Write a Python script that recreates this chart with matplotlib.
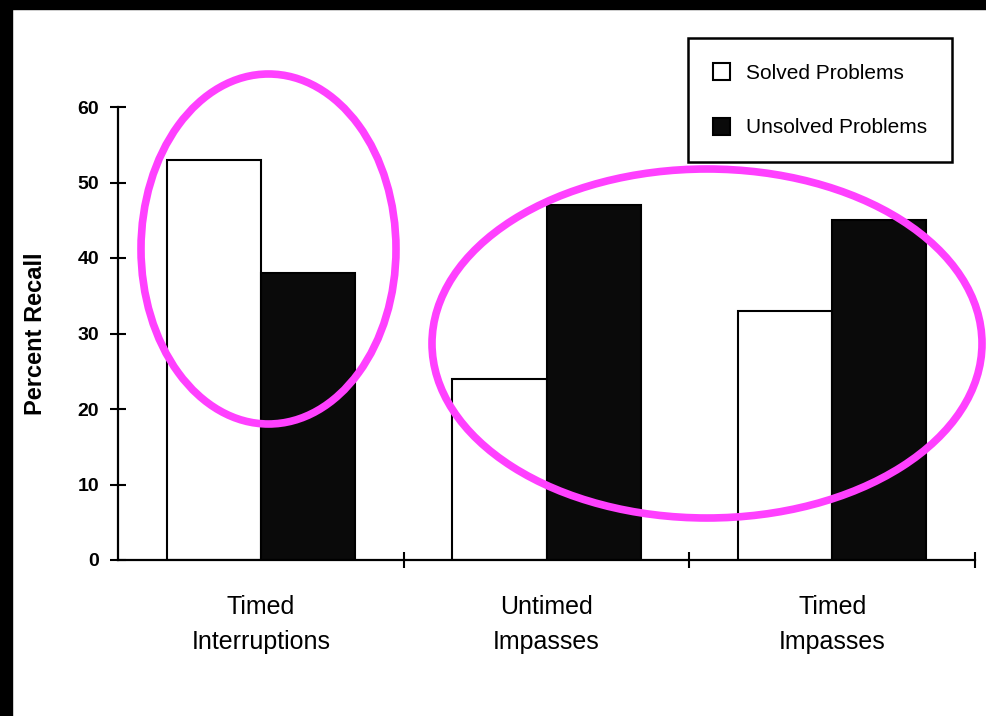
import matplotlib.pyplot as plt
import numpy as np
from matplotlib.patches import Ellipse, Rectangle

# data
conditions = ['Timed\nInterruptions', 'Untimed\nImpasses', 'Timed\nImpasses']
solved = [53, 24, 33]
unsolved = [38, 47, 45]
yticks = [0, 10, 20, 30, 40, 50, 60]

plt.rcParams['font.family'] = ['Liberation Sans', 'DejaVu Sans']

fig = plt.figure(figsize=(9.86, 7.16), dpi=100)
ax = fig.add_axes([118 / 986, 156 / 716, 857 / 986, 453 / 716])

x = np.arange(len(conditions)) + 0.5
w = 0.33
ax.bar(x - w / 2, solved, w, color='white', edgecolor='black', linewidth=1.5,
       label='Solved Problems')
ax.bar(x + w / 2, unsolved, w, color='#0a0a0a', edgecolor='black', linewidth=1.5,
       label='Unsolved Problems')

ax.set_xlim(0, 3)
ax.set_ylim(0, 60)
for s in ['top', 'right']:
    ax.spines[s].set_visible(False)
ax.spines['left'].set_linewidth(1.6)
ax.spines['bottom'].set_linewidth(1.6)

ax.set_yticks(yticks)
ax.set_yticklabels([str(v) for v in yticks], fontsize=14, fontweight='bold')
ax.tick_params(axis='y', direction='inout', length=11, width=1.5, pad=8)

# category separators as x ticks, labels as minor ticks at centers
ax.set_xticks([1, 2, 3])
ax.set_xticklabels(['', '', ''])
ax.tick_params(axis='x', which='major', direction='inout', length=12, width=1.5)
ax.set_xticks(x, minor=True)
ax.set_xticklabels(conditions, minor=True, fontsize=18, linespacing=1.6)
ax.tick_params(axis='x', which='minor', length=0, pad=25)

ax.set_ylabel('Percent Recall', fontsize=17, fontweight='bold')
ax.yaxis.set_label_coords(-0.083, 0.5)

leg = fig.legend(loc='upper right', bbox_to_anchor=(952 / 986, 1 - 38 / 716),
                 fontsize=15, fancybox=False, edgecolor='black', framealpha=1,
                 handlelength=0.85, handleheight=0.85, handletextpad=0.75,
                 labelspacing=1.7, borderpad=1.2, borderaxespad=0)
leg.get_frame().set_linewidth(1.8)

# black scan borders
fig.add_artist(Rectangle((0, 1 - 9 / 716), 1, 9 / 716, transform=fig.transFigure,
                         color='black', zorder=10))
fig.add_artist(Rectangle((0, 0), 12 / 986, 1, transform=fig.transFigure,
                         color='black', zorder=10))

# magenta ellipses
fig.add_artist(Ellipse((268.5 / 986, 1 - 249 / 716), 255 / 986, 350 / 716,
                       transform=fig.transFigure, fill=False,
                       edgecolor='#ff40ff', linewidth=5.5, zorder=11))
fig.add_artist(Ellipse((707 / 986, 1 - 343.5 / 716), 550 / 986, 349 / 716,
                       transform=fig.transFigure, fill=False,
                       edgecolor='#ff40ff', linewidth=5.5, zorder=11))

fig.savefig('out.png', dpi=100)
